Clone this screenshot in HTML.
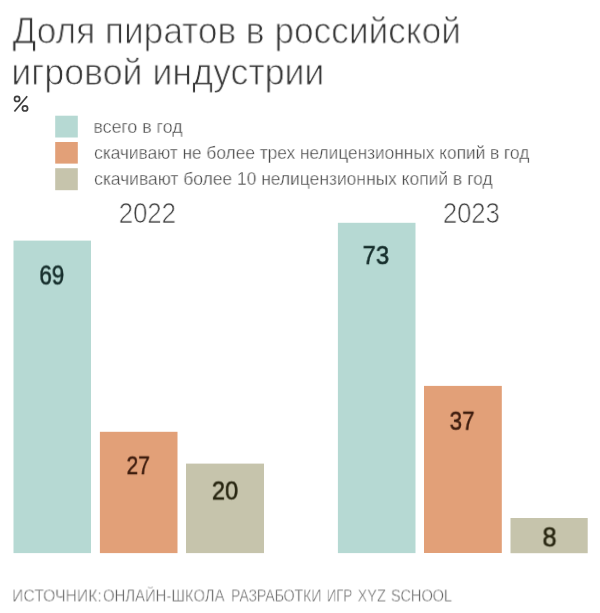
<!DOCTYPE html>
<html><head><meta charset="utf-8">
<style>
html,body{margin:0;padding:0;}
body{width:600px;height:613px;background:#fff;position:relative;overflow:hidden;font-family:"Liberation Sans",sans-serif;}
.t{position:absolute;white-space:nowrap;line-height:1;transform-origin:0 0;will-change:transform;}
.ttl{font-size:36px;color:#363636;-webkit-text-stroke:0.9px #fff;transform:scaleX(0.976);}
.lg{font-size:18.3px;color:#484848;-webkit-text-stroke:0.35px #fff;transform:scaleX(0.945);}
.yr{font-size:30px;color:#444;-webkit-text-stroke:0.7px #fff;transform:scaleX(0.843);}
.v{position:absolute;white-space:nowrap;line-height:1;color:#142c2a;font-size:25.5px;transform-origin:0 0;-webkit-text-stroke:0.5px currentColor;will-change:transform;}
.sr{font-size:17px;color:#5c5c5c;-webkit-text-stroke:0.45px #fff;}
</style></head><body>
<svg width="600" height="613" viewBox="0 0 600 613" style="position:absolute;left:0;top:0;">
<rect x="55.2" y="115.7" width="22.6" height="21.8" fill="#b6d9d3"/>
<rect x="55.2" y="142" width="22.6" height="21.6" fill="#e2a078"/>
<rect x="55.2" y="168.2" width="22.6" height="22" fill="#c6c4ac"/>
<rect x="13.5" y="240.6" width="77.5" height="312.5" fill="#b6d9d3"/>
<rect x="99.9" y="431.8" width="77.6" height="121.3" fill="#e2a078"/>
<rect x="186" y="463.6" width="78" height="89.5" fill="#c6c4ac"/>
<rect x="337.9" y="222.8" width="77.6" height="330.3" fill="#b6d9d3"/>
<rect x="424" y="385.9" width="77.8" height="167.1" fill="#e2a078"/>
<rect x="510.5" y="518" width="77.2" height="35.2" fill="#c6c4ac"/>
<g fill="none" stroke="#3e3e3e" stroke-width="1.7">
<circle cx="17.1" cy="98.9" r="2.6"/>
<circle cx="25" cy="108.4" r="2.6"/>
<line x1="14.4" y1="111.5" x2="27.2" y2="96.2" stroke-linecap="butt"/>
</g>
</svg>
<div class="t ttl" id="t1" style="left:0;top:0;transform:translate(12.46px,12.60px) scale(0.9784,1.0350);">Доля пиратов в российской</div>
<div class="t ttl" id="t2" style="left:0;top:0;transform:translate(11.32px,53.90px) scale(0.9927,1.0350);">игровой индустрии</div>

<div class="t lg" id="l1" style="left:0;top:0;transform:translate(93.43px,118.00px) scale(0.9694,1.0000);">всего в год</div>
<div class="t lg" id="l2" style="left:0;top:0;transform:translate(94.12px,144.00px) scale(0.9454,1.0000);">скачивают не более трех нелицензионных копий в год</div>
<div class="t lg" id="l3" style="left:0;top:0;transform:translate(94.12px,170.00px) scale(0.9535,1.0000);">скачивают более 10 нелицензионных копий в год</div>

<div class="t yr" id="y1" style="left:0;top:0;transform:translate(118.75px,198.00px) scale(0.8580,1.0000);">2022</div>
<div class="t yr" id="y2" style="left:0;top:0;transform:translate(442.92px,198.00px) scale(0.8525,1.0000);">2023</div>


<div class="v" id="v1" style="left:0;top:0;transform:translate(39.41px,262.56px) scale(0.8711,1.0499);">69</div>
<div class="v" id="v2" style="color:#3d1c0e;left:0;top:0;transform:translate(126.54px,453.52px) scale(0.8192,0.9797);">27</div>
<div class="v" id="v3" style="color:#26240f;left:0;top:0;transform:translate(211.91px,477.56px) scale(0.9225,1.0459);">20</div>
<div class="v" id="v4" style="left:0;top:0;transform:translate(362.53px,242.19px) scale(0.9367,1.0340);">73</div>
<div class="v" id="v5" style="color:#3d1c0e;left:0;top:0;transform:translate(449.61px,408.71px) scale(0.8786,1.0047);">37</div>
<div class="v" id="v6" style="color:#26240f;left:0;top:0;transform:translate(542.50px,524.53px) scale(0.9919,1.0487);">8</div>

<div class="t sr" id="s0" style="left:0;top:0;transform:translate(12.06px,587.50px) scale(0.9254,1.0000);">ИСТОЧНИК:</div>
<div class="t sr" id="s1" style="left:0;top:0;transform:translate(102.96px,587.50px) scale(0.8739,1.0000);">ОНЛАЙН-ШКОЛА</div>
<div class="t sr" id="s2" style="left:0;top:0;transform:translate(231.01px,587.50px) scale(0.8221,1.0000);">РАЗРАБОТКИ</div>
<div class="t sr" id="s3" style="left:0;top:0;transform:translate(326.84px,587.50px) scale(0.7699,1.0000);">ИГР</div>
<div class="t sr" id="s4" style="left:0;top:0;transform:translate(357.60px,587.50px) scale(0.8526,1.0000);">XYZ</div>
<div class="t sr" id="s5" style="left:0;top:0;transform:translate(390.90px,587.50px) scale(0.8520,1.0000);">SCHOOL</div>
</body></html>
